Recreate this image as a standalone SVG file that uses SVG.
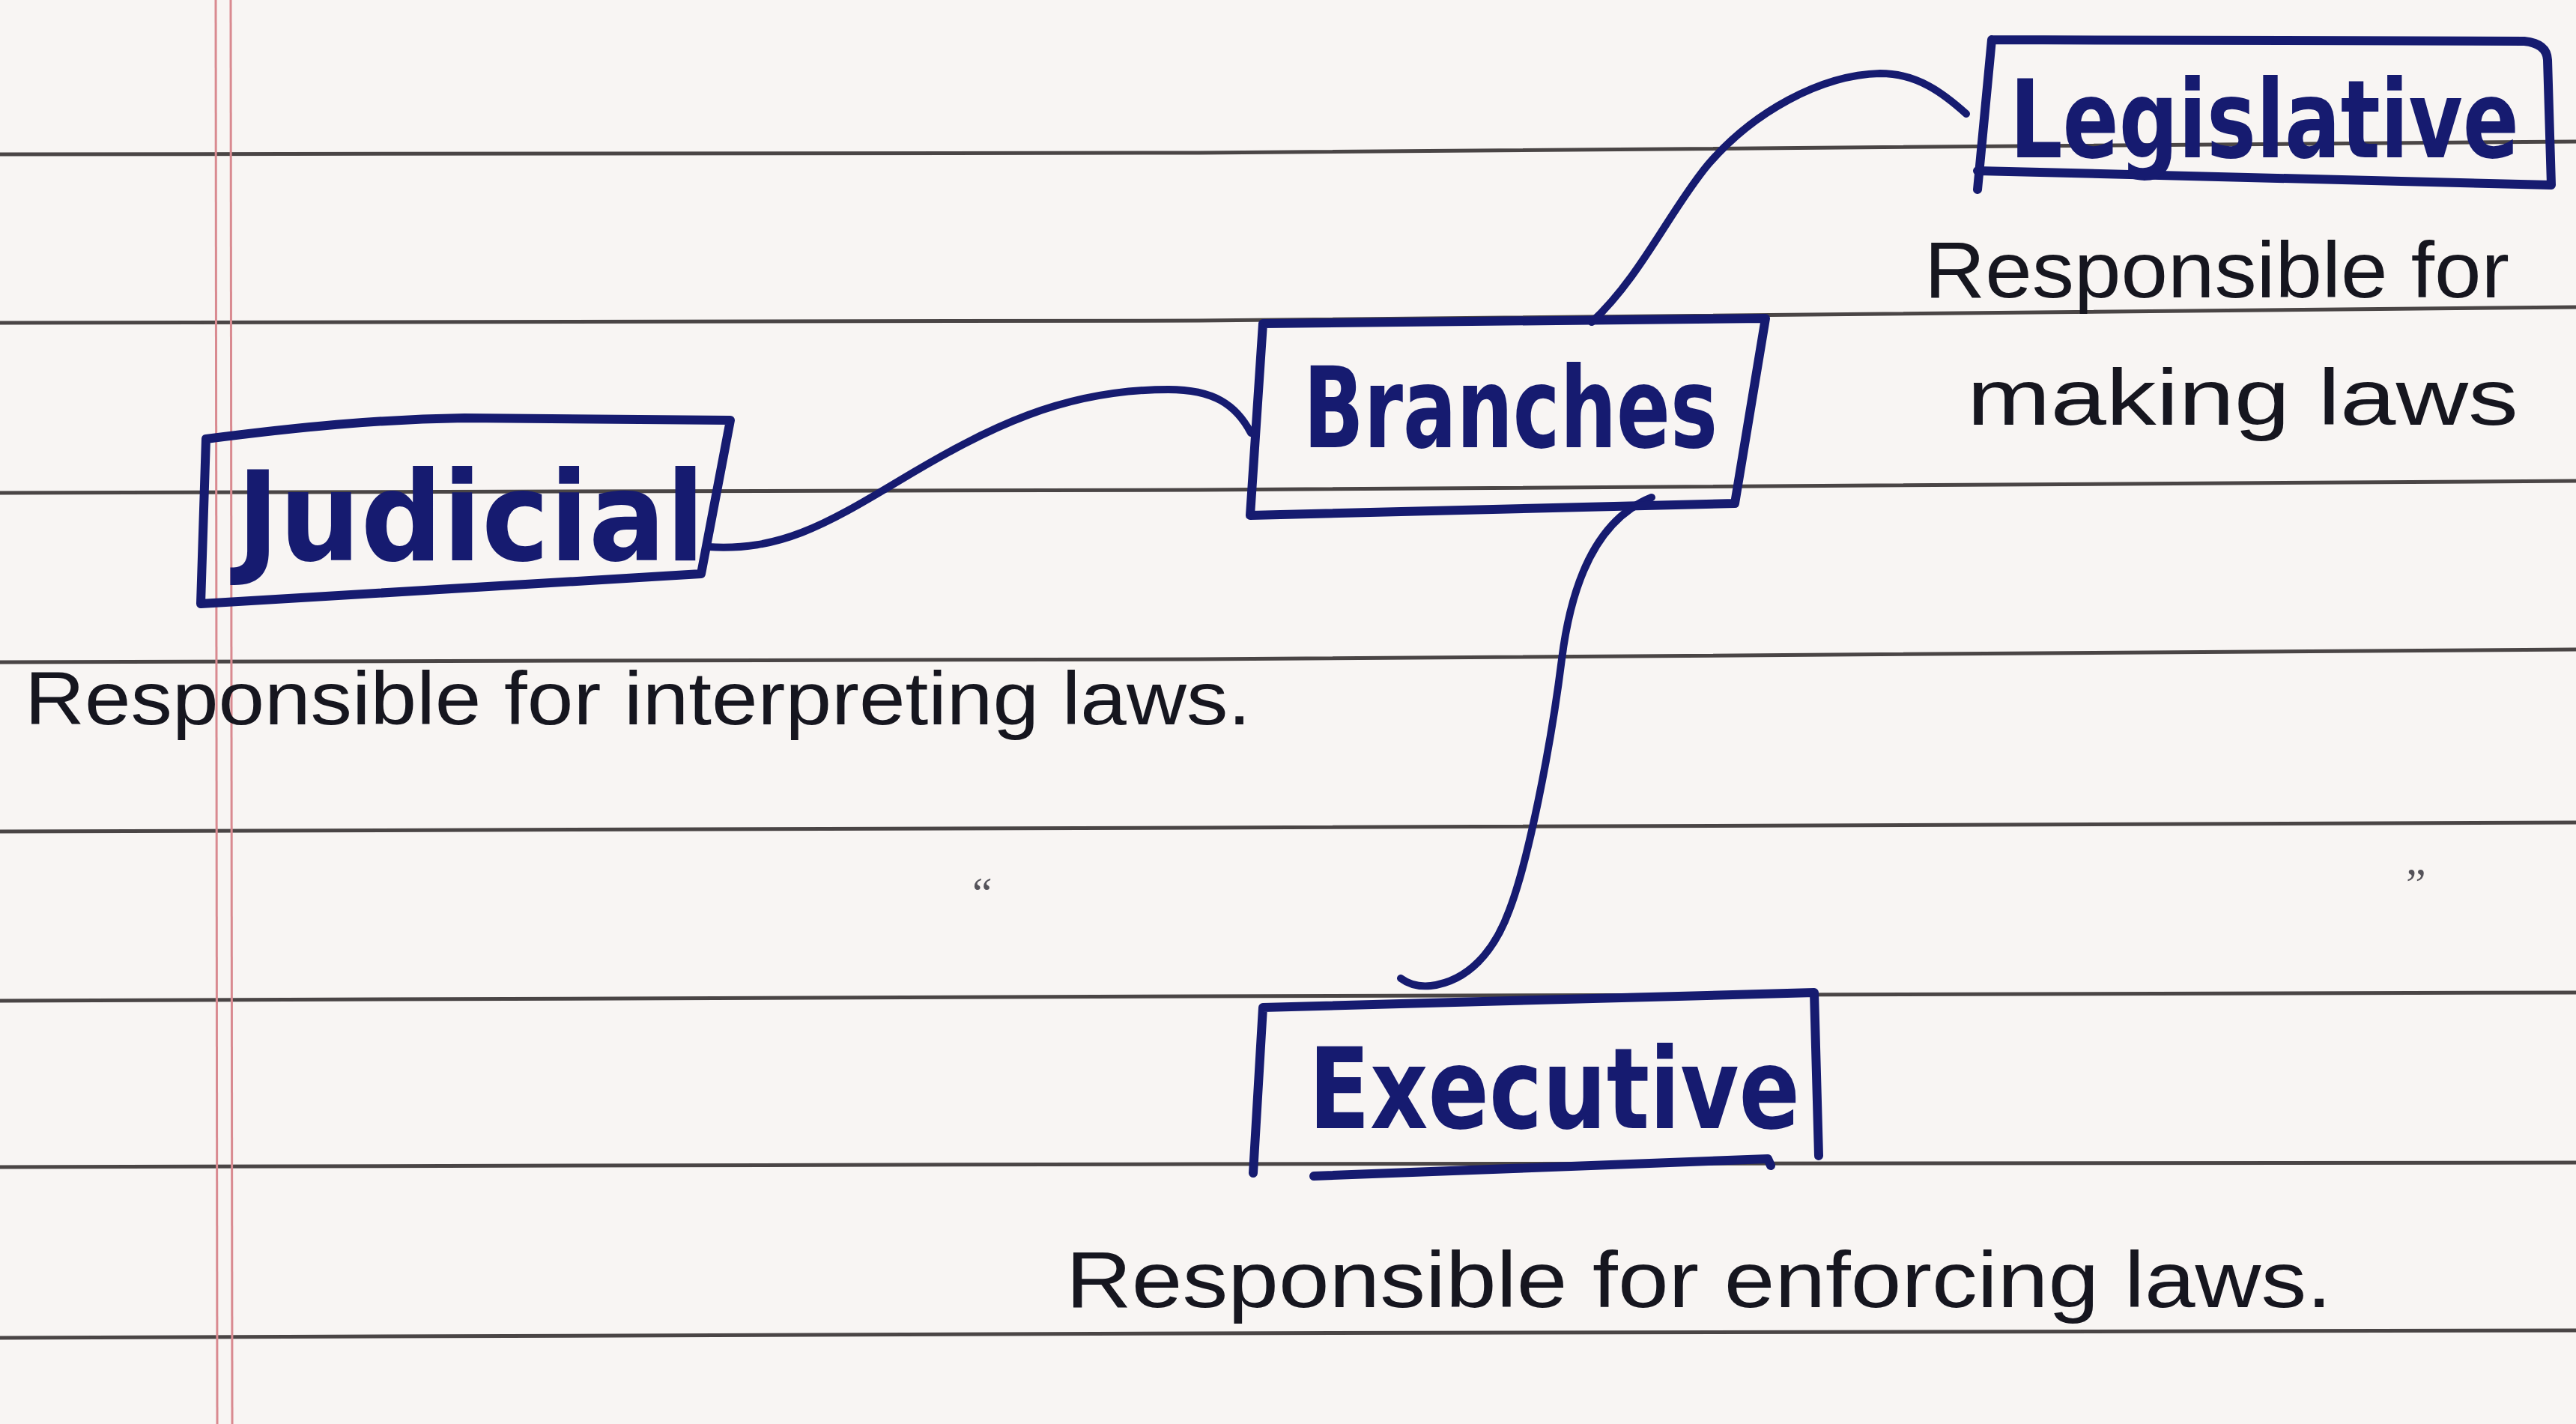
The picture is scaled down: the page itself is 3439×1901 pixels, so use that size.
<svg xmlns="http://www.w3.org/2000/svg" width="3439" height="1901" viewBox="0 0 3439 1901">
  <defs>
    <style>
      .rule { stroke: #4a4545; stroke-width: 5; fill: none; }
      .margin { stroke: #d98a90; stroke-width: 3; fill: none; }
      .box { stroke: #161b70; stroke-width: 12; fill: none; stroke-linecap: round; stroke-linejoin: round; }
      .link { stroke: #161b70; stroke-width: 10; fill: none; stroke-linecap: round; }
      .title { font-family: "DejaVu Sans Condensed", "DejaVu Sans", "Noto Sans", sans-serif; font-weight: bold; fill: #161b70; }
      .note { font-family: "Liberation Sans", "Noto Sans", sans-serif; fill: #16161f; }
      .mark { font-family: "Liberation Serif", serif; fill: #55535a; }
    </style>
  </defs>

  <!-- paper -->
  <rect x="0" y="0" width="3439" height="1901" fill="#f8f5f3"/>

  <!-- ruled lines and red margin -->
  <g id="paper-lines">
    <path class="rule" d="M0 206 L1600 204 L3439 189"/>
    <path class="rule" d="M0 431 L1600 428 L3439 410"/>
    <path class="rule" d="M0 658 L1600 654 L3439 642"/>
    <path class="rule" d="M0 884 L1600 880 L3439 867"/>
    <path class="rule" d="M0 1110 L1600 1105 L3439 1098"/>
    <path class="rule" d="M0 1336 L1600 1330 L3439 1325"/>
    <path class="rule" d="M0 1558 L1600 1554 L3439 1552"/>
    <path class="rule" d="M0 1786 L1600 1780 L3439 1776"/>
    <path class="margin" d="M288 0 L290 1901"/>
    <path class="margin" d="M308 0 L310 1901"/>
  </g>

  <!-- connectors -->
  <g id="connectors">
    <path class="link" d="M945 730 C1040 736 1100 702 1200 642 C1320 570 1420 520 1560 520 C1620 520 1650 540 1670 578"/>
    <path class="link" d="M2125 430 C2190 370 2230 280 2280 220 C2340 150 2430 100 2510 98 C2560 98 2595 125 2625 152"/>
    <path class="link" d="M2205 664 C2140 690 2100 760 2085 880 C2070 1000 2040 1150 2015 1215 C1995 1270 1960 1310 1910 1316 C1890 1318 1878 1312 1870 1306"/>
  </g>

  <!-- Branches (centre) -->
  <g id="node-branches">
    <path class="box" d="M1686 432 L2357 425 L2316 672 L1669 688 Z"/>
    <text class="title" x="1740" y="597" font-size="150" textLength="553" lengthAdjust="spacingAndGlyphs">Branches</text>
  </g>

  <!-- Judicial -->
  <g id="node-judicial">
    <path class="box" d="M275 586 C400 570 500 560 620 558 L975 561 L936 766 L268 806 Z"/>
    <text class="title" x="316" y="748" font-size="165" textLength="625" lengthAdjust="spacingAndGlyphs">Judicial</text>
    <text class="note" x="33" y="967" font-size="100" textLength="1637" lengthAdjust="spacingAndGlyphs">Responsible for interpreting laws.</text>
  </g>

  <!-- Legislative -->
  <g id="node-legislative">
    <path class="box" d="M2659 53 L3370 55 Q3400 58 3401 80 L3406 247 L2640 228 M2659 53 L2640 253"/>
    <text class="title" x="2683" y="210" font-size="145" textLength="680" lengthAdjust="spacingAndGlyphs">Legislative</text>
    <text class="note" x="2569" y="397" font-size="105" textLength="781" lengthAdjust="spacingAndGlyphs">Responsible for</text>
    <text class="note" x="2626" y="567" font-size="105" textLength="736" lengthAdjust="spacingAndGlyphs">making laws</text>
  </g>

  <!-- Executive -->
  <g id="node-executive">
    <path class="box" d="M1673 1566 L1686 1345 L2422 1325 L2428 1543"/>
    <path class="box" d="M1754 1570 L2360 1547 L2364 1556"/>
    <text class="title" x="1747" y="1506" font-size="150" textLength="656" lengthAdjust="spacingAndGlyphs">Executive</text>
    <text class="note" x="1423" y="1745" font-size="105" textLength="1690" lengthAdjust="spacingAndGlyphs">Responsible for enforcing laws.</text>
  </g>

  <!-- stray pen marks -->
  <text class="mark" x="1298" y="1212" font-size="60">“</text>
  <text class="mark" x="3212" y="1200" font-size="60">”</text>
</svg>
